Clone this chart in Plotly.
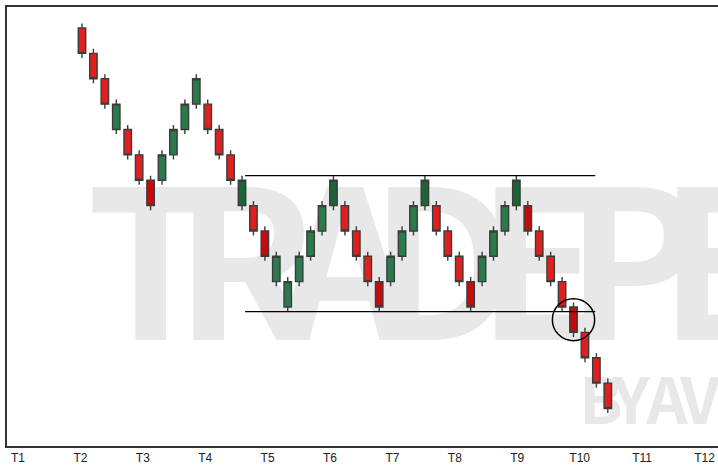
"""
Renko style breakdown chart (double/triple top range, break of support).
"""

import plotly.graph_objects as go

# bottom of each brick body (brick units), in time order
BRICK_LOW = [14, 13, 12, 11, 10, 9, 8, 9, 10, 11, 12, 11, 10, 9, 8, 7,
             6, 5, 4, 5, 6, 7, 8, 7, 6, 5, 4, 5, 6, 7, 8, 7,
             6, 5, 4, 5, 6, 7, 8, 7, 6, 5, 4, 3, 2, 1, 0]
# brick colour: G = green, R = red
BRICK_COLOR = ['R', 'R', 'R', 'G', 'R', 'R', 'R', 'G', 'G', 'G', 'G', 'R', 'R', 'R', 'G', 'R',
               'R', 'G', 'G', 'G', 'G', 'G', 'G', 'R', 'R', 'R', 'R', 'G', 'G', 'G', 'G', 'R',
               'R', 'R', 'R', 'G', 'G', 'G', 'G', 'R', 'R', 'R', 'R', 'R', 'R', 'R', 'R']
# darker shaded bricks (1-based position)
DARK_BRICKS = {7, 15, 17, 23, 27, 31, 35, 39, 40, 44}
BRICK_SIZE = 1.0
WICK = 0.18

TICK_LABELS = ['T1', 'T2', 'T3', 'T4', 'T5', 'T6', 'T7', 'T8', 'T9', 'T10', 'T11', 'T12']

RANGE_FROM = 14        # first brick under the range lines (0-based)
BREAK_BRICK = 43       # circled breakout brick (0-based)

# watermark as far as it is visible in the frame
WATERMARK_BIG = 'TRADEPE'
WATERMARK_SMALL = 'BY AVR'

COLORS = {
    'up':        '#2b7a4b',
    'up_dark':   '#1c6437',
    'down':      '#e0201f',
    'down_dark': '#c50b0b',
    'edge':      '#3c3c3c',
    'frame':     '#333333',
    'mark':      '#e8e8e8',
}

W, H = 718, 467
MARGIN = dict(l=7, r=0, t=7, b=21)

x_all = list(range(len(BRICK_LOW)))
opens, closes, highs, lows = [], [], [], []
for low, col in zip(BRICK_LOW, BRICK_COLOR):
    top = low + BRICK_SIZE
    if col == 'G':
        opens.append(low)
        closes.append(top)
    else:
        opens.append(top)
        closes.append(low)
    highs.append(top + WICK)
    lows.append(low - WICK)


def candle_trace(idx, up_col, down_col):
    return go.Candlestick(
        x=[x_all[i] for i in idx],
        open=[opens[i] for i in idx],
        high=[highs[i] for i in idx],
        low=[lows[i] for i in idx],
        close=[closes[i] for i in idx],
        increasing=dict(fillcolor=up_col, line=dict(color=COLORS['edge'], width=1.4)),
        decreasing=dict(fillcolor=down_col, line=dict(color=COLORS['edge'], width=1.4)),
        whiskerwidth=0,
        showlegend=False,
        hoverinfo='skip',
    )


normal = [i for i in x_all if (i + 1) not in DARK_BRICKS]
dark = [i for i in x_all if (i + 1) in DARK_BRICKS]

fig = go.Figure()
fig.add_trace(candle_trace(normal, COLORS['up'], COLORS['down']))
fig.add_trace(candle_trace(dark, COLORS['up_dark'], COLORS['down_dark']))

# range: resistance / support from the sideways section
resistance = max(highs[RANGE_FROM:BREAK_BRICK])
support = min(lows[RANGE_FROM:BREAK_BRICK])
line_x0 = RANGE_FROM + 0.27
line_x1 = BREAK_BRICK + 1.9
for lvl in (resistance, support):
    fig.add_shape(type='line', x0=line_x0, x1=line_x1, y0=lvl, y1=lvl,
                  line=dict(color='black', width=1.3), layer='above')

# circle around the breakout brick
cy = BRICK_LOW[BREAK_BRICK] + BRICK_SIZE / 2
fig.add_shape(type='circle', x0=BREAK_BRICK - 1.85, x1=BREAK_BRICK + 1.85,
              y0=cy - 0.83, y1=cy + 0.83,
              line=dict(color='black', width=1.5), layer='above')


# watermark, drawn letter by letter behind the bricks (condensed look)
def px_to_paper(px, py):
    pw = W - MARGIN['l'] - MARGIN['r']
    ph = H - MARGIN['t'] - MARGIN['b']
    return (px - MARGIN['l']) / pw, (H - MARGIN['b'] - py) / ph


def add_watermark(text, centers, cy_px, size):
    for ch, cx_px in zip(text, centers):
        if ch == ' ':
            continue
        px, py = px_to_paper(cx_px, cy_px + 0.09 * size)
        fig.add_shape(type='rect', xref='paper', yref='paper',
                      x0=px - 0.05, x1=px + 0.05, y0=py - 0.05, y1=py + 0.05,
                      line=dict(width=0), fillcolor='rgba(0,0,0,0)', layer='below',
                      label=dict(text='<b>' + ch + '</b>', textposition='middle center',
                                 font=dict(family='Noto Sans CJK SC, Roboto, sans-serif',
                                           size=size, color=COLORS['mark'])))


add_watermark(WATERMARK_BIG, [151, 245, 345, 443, 540, 634, 722], 264, 206)
add_watermark(WATERMARK_SMALL, [601, 631, 0, 667, 700, 734], 400, 64)

tick_start = -5.6
tick_step = 5.46
tick_vals = [tick_start + k * tick_step for k in range(len(TICK_LABELS))]

fig.update_layout(
    width=W,
    height=H,
    margin=MARGIN,
    paper_bgcolor='white',
    plot_bgcolor='white',
    boxgap=0.07,
    font=dict(family='Liberation Sans Narrow, Liberation Sans, sans-serif', color='#222222', size=12),
)
fig.update_xaxes(
    range=[-6.56, 55.64],
    tickvals=tick_vals,
    ticktext=TICK_LABELS,
    ticks='',
    showgrid=False,
    zeroline=False,
    showline=True,
    mirror=True,
    linecolor=COLORS['frame'],
    linewidth=1.5,
    rangeslider_visible=False,
    fixedrange=True,
)
fig.update_yaxes(
    range=[-1.48, 15.83],
    showticklabels=False,
    ticks='',
    showgrid=False,
    zeroline=False,
    showline=True,
    linecolor=COLORS['frame'],
    linewidth=1.5,
    fixedrange=True,
)

fig.write_html("out.html", config=dict(displayModeBar=False),
               post_script="document.body.style.margin='0';")
